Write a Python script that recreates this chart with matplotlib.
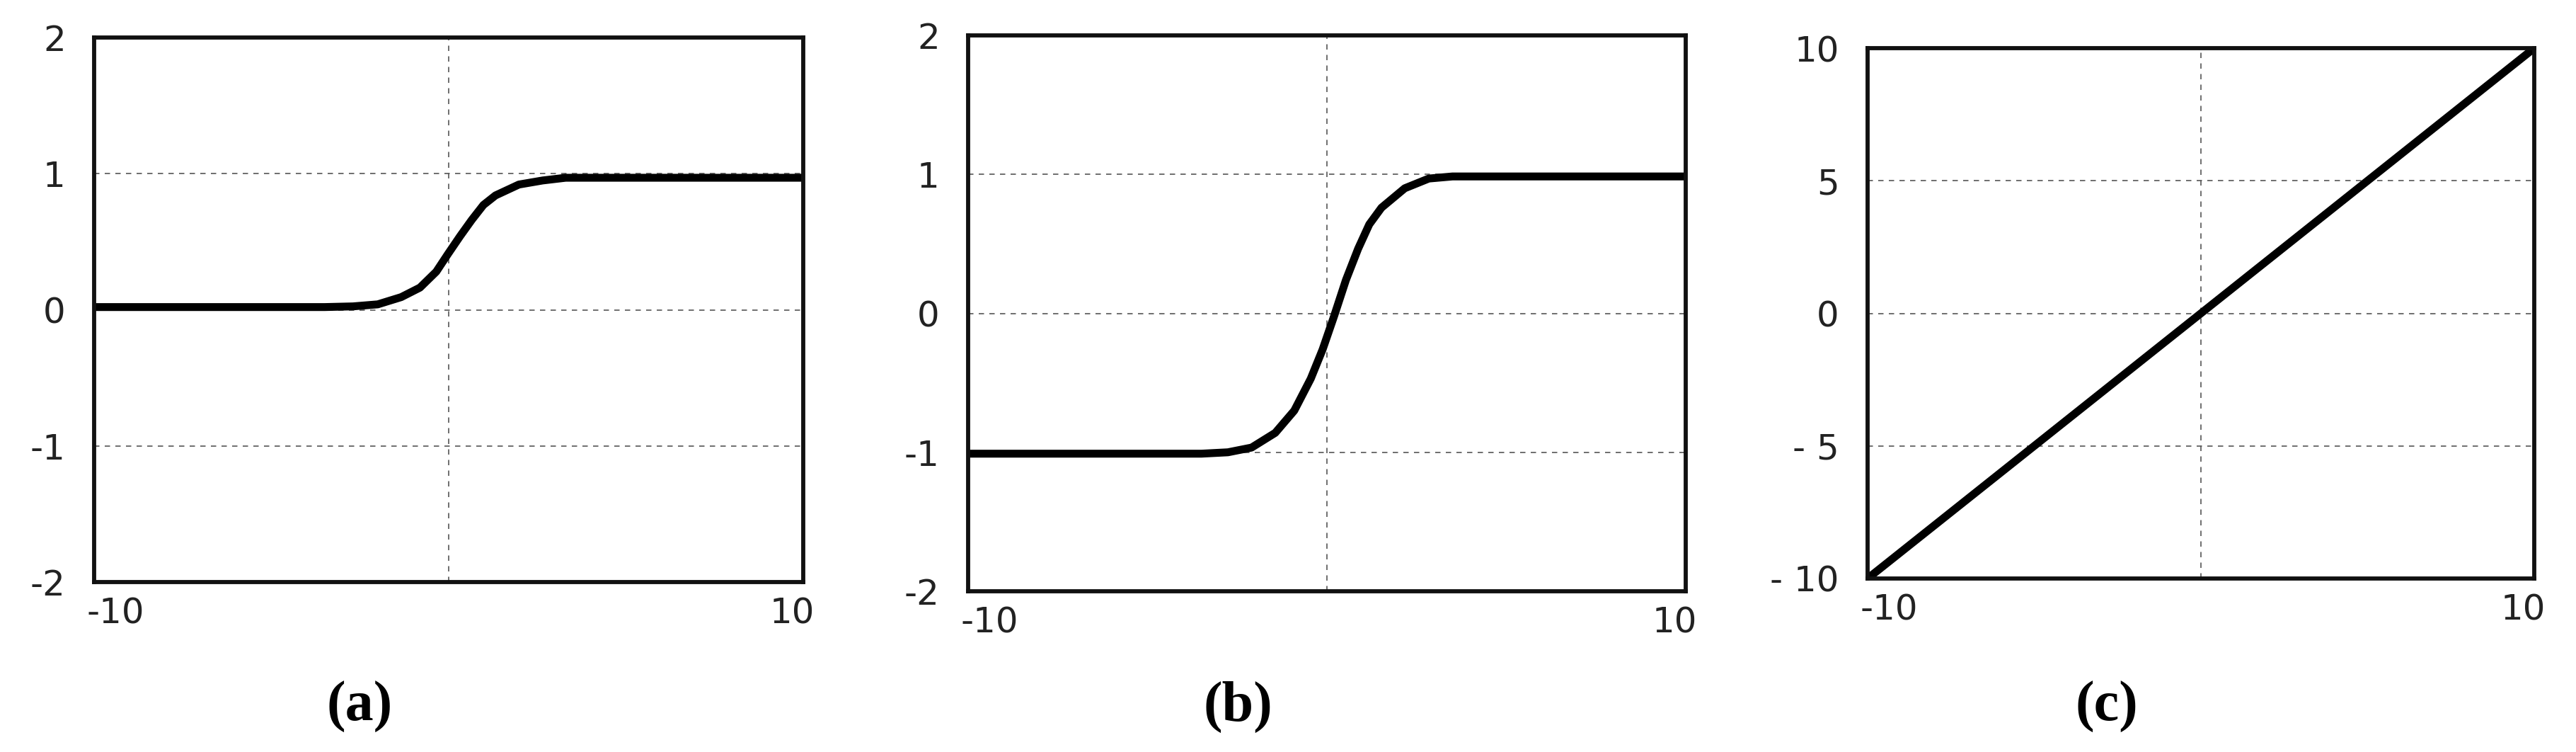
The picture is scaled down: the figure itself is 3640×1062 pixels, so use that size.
import matplotlib
matplotlib.use("Agg")
import matplotlib.pyplot as plt
from matplotlib.transforms import ScaledTranslation

# ---- data ----
x_a = [-10, -3.5, -2.7, -2.0, -1.34, -0.81, -0.35, -0.02, 0.32, 0.65, 0.98, 1.32, 1.98, 2.65, 3.3, 4.0, 10]
y_a = [0.02, 0.02, 0.025, 0.04, 0.093, 0.163, 0.28, 0.41, 0.54, 0.66, 0.77, 0.84, 0.92, 0.95, 0.97, 0.97, 0.97]

x_b = [-10, -3.5, -2.76, -2.1, -1.44, -0.91, -0.45, -0.12, 0.20, 0.53, 0.87, 1.18, 1.52, 2.17, 2.84, 3.5, 10]
y_b = [-1.01, -1.01, -1.0, -0.966, -0.86, -0.70, -0.47, -0.26, -0.02, 0.24, 0.465, 0.64, 0.76, 0.90, 0.97, 0.985, 0.985]

x_c = [-10, 10]
y_c = [-10, 10]

yticks_ab = [-2, -1, 0, 1, 2]
ylabels_ab = ["-2", "-1", "0", "1", "2"]
yticks_c = [-10, -5, 0, 5, 10]
ylabels_c = ["- 10", "- 5", "0", "5", "10"]
xticks = [-10, 0, 10]
xlabels = ["-10", "", "10"]
panel_labels = ["(a)", "(b)", "(c)"]

W, H = 3641, 1062
DPI = 100
fig = plt.figure(figsize=(W / DPI, H / DPI), dpi=DPI)

# axes boxes in pixels: left, right, top, bottom
boxes = [(133, 1135, 53, 822), (1368, 2382, 50, 835), (2639, 3581, 68, 817)]
label_x = [508, 1749, 2977]

series = [(x_a, y_a, yticks_ab, ylabels_ab, (-2, 2)),
          (x_b, y_b, yticks_ab, ylabels_ab, (-2, 2)),
          (x_c, y_c, yticks_c, ylabels_c, (-10, 10))]

tick_color = "#222222"
for i, ((l, r, t, b), (xs, ys, yt, yl, ylim)) in enumerate(zip(boxes, series)):
    ax = fig.add_axes([l / W, 1 - b / H, (r - l) / W, (b - t) / H])
    ax.set_xlim(-10, 10)
    ax.set_ylim(*ylim)
    ax.set_xticks(xticks)
    ax.set_xticklabels(xlabels)
    ax.set_yticks(yt)
    ax.set_yticklabels(yl)
    ax.grid(True, color="#555555", linewidth=1.2, linestyle=(0, (4.5, 4.5)))
    ax.set_axisbelow(True)
    ax.plot(xs, ys, color="black", linewidth=8.0, solid_joinstyle="round",
            solid_capstyle="butt", zorder=3)
    for s in ax.spines.values():
        s.set_linewidth(4.2)
        s.set_color("#111111")
        s.set_zorder(4)
    ax.tick_params(axis="both", length=0, labelsize=36, colors=tick_color)
    ax.tick_params(axis="x", pad=15)
    ax.tick_params(axis="y", pad=29)
    for lab in ax.get_xticklabels() + ax.get_yticklabels():
        lab.set_family("DejaVu Sans")
    xl = ax.get_xticklabels()
    xl[0].set_horizontalalignment("left")
    xl[0].set_transform(xl[0].get_transform() + ScaledTranslation(-10 / DPI, 0, fig.dpi_scale_trans))
    xl[-1].set_horizontalalignment("right")
    xl[-1].set_transform(xl[-1].get_transform() + ScaledTranslation(16 / DPI, 0, fig.dpi_scale_trans))

    fig.text(label_x[i] / W, 1 - 1018 / H, panel_labels[i], ha="center", va="baseline",
             fontsize=57.6, fontweight="bold", family="Liberation Serif", color="black")

fig.savefig("out.png", dpi=DPI, facecolor="white")
